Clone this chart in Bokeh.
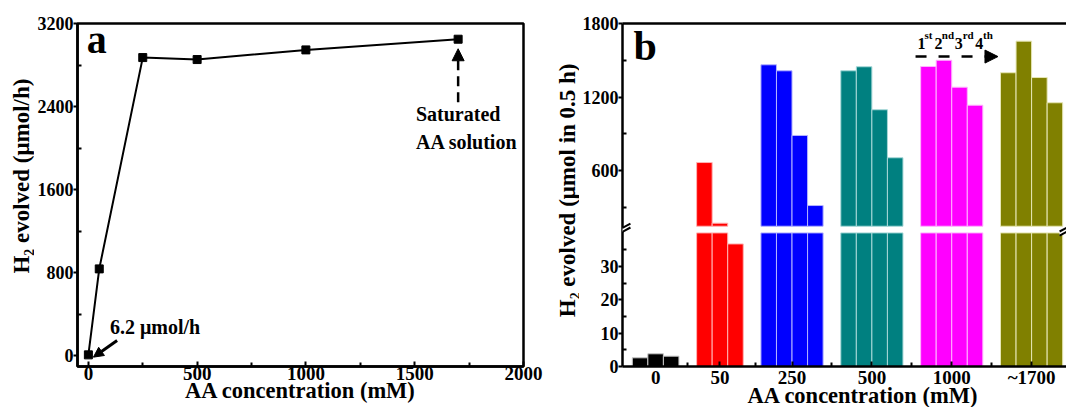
import math
from bokeh.plotting import figure
from bokeh.models import (Range1d, FixedTicker, CustomJSTickFormatter, Label, Arrow, Title,
                          NormalHead, PolyAnnotation, LinearAxis, ColumnDataSource)
from bokeh.layouts import row
from bokeh.embed import file_html
from bokeh.resources import INLINE

# ---------------- data ----------------
# panel a: H2 evolution rate vs AA concentration
conc_a = [0, 50, 250, 500, 1000, 1700]
rate_a = [6.2, 835, 2872, 2853, 2946, 3049]

# panel b: H2 evolved in 0.5 h for consecutive runs at each AA concentration
groups_b = ["0", "50", "250", "500", "1000", "~1700"]
runs_0 = [2.6, 3.8, 3.1]
runs_50 = [665, 170, 36.7]
runs_250 = [1463, 1414, 886, 314]
runs_500 = [1414, 1447, 1096, 704]
runs_1000 = [1449, 1500, 1280, 1133]
runs_1700 = [1398, 1656, 1359, 1153]
runs_b = [runs_0, runs_50, runs_250, runs_500, runs_1000, runs_1700]
colors_b = ["#000000", "#ff0000", "#0000ff", "#008080", "#ff00ff", "#808000"]
edges_b = ["#c8c8c8", "#ffb4b4", "#b4b4ff", "#a8d8d8", "#ffb4ff", "#e6e6b4"]

FONT = "Liberation Serif"
H = 407


def style_axis(ax, tick_in, tick_out, minor_in, minor_out, standoff, size="18px"):
    ax.axis_line_width = 2.5
    ax.axis_line_color = "black"
    ax.major_tick_line_width = 2
    ax.minor_tick_line_width = 2
    ax.major_tick_in = tick_in
    ax.major_tick_out = tick_out
    ax.minor_tick_in = minor_in
    ax.minor_tick_out = minor_out
    ax.major_label_standoff = standoff
    ax.major_label_text_font = FONT
    ax.major_label_text_font_style = "bold"
    ax.major_label_text_font_size = size
    ax.major_label_text_color = "black"


def lab(p, x, y, text, size, **kw):
    l = Label(x=x, y=y, text=text, text_font=FONT, text_font_style="bold",
              text_font_size=size, text_color="black", **kw)
    p.add_layout(l)
    return l


def helper(w, h):
    f = figure(width=w, height=h, x_range=Range1d(0, w), y_range=Range1d(0, h),
               x_axis_type=None, y_axis_type=None, output_backend="svg", toolbar_location=None,
               min_border=0, min_border_left=0, min_border_right=0, min_border_top=0, min_border_bottom=0)
    f.outline_line_color = None
    f.background_fill_color = "white"
    f.border_fill_color = "white"
    return f


# ---------------- panel a ----------------
pa = figure(width=516, height=H, x_range=Range1d(-50, 2000.5), y_range=Range1d(-106, 3200.5),
            output_backend="svg", toolbar_location=None,
            min_border_left=40, min_border_right=27, min_border_top=23, min_border_bottom=41)
pa.xgrid.visible = False
pa.ygrid.visible = False
pa.outline_line_color = "black"
pa.outline_line_width = 2.5
pa.outline_line_alpha = 1
pa.background_fill_color = "white"
pa.border_fill_color = "white"

pa.xaxis.ticker = FixedTicker(ticks=[0, 500, 1000, 1500, 2000], minor_ticks=[250, 750, 1250, 1750])
pa.yaxis.ticker = FixedTicker(ticks=[0, 800, 1600, 2400, 3200], minor_ticks=[400, 1200, 2000, 2800])
style_axis(pa.xaxis[0], 5, 0, 4, 0, 0, "19px")
style_axis(pa.yaxis[0], 0, 4, 4, 0, 0)
pa.xaxis.axis_label = "AA concentration (mM)"
pa.xaxis.axis_label_standoff = -5
pa.xaxis.axis_label_text_font = FONT
pa.xaxis.axis_label_text_font_style = "bold"
pa.xaxis.axis_label_text_font_size = "22.5px"
pa.xaxis.axis_label_text_color = "black"

src_a = ColumnDataSource(dict(x=conc_a, y=rate_a))
pa.line("x", "y", source=src_a, line_color="black", line_width=2)
pa.scatter("x", "y", source=src_a, marker="square", size=8, fill_color="black", line_color="black")

lab(pa, -7.8, 2825, "a", "40px")
lab(pa, 99, 168, "6.2 \u03bcmol/h", "20px")
lab(pa, 1506, 2219, "Saturated", "20px")
lab(pa, 1506, 1952, "AA solution", "20px")

pa.add_layout(Arrow(end=NormalHead(size=10, fill_color="black", line_color="black", line_width=1),
                    x_start=132, y_start=145, x_end=23, y_end=-16, line_width=3, line_color="black"))
pa.add_layout(Arrow(end=NormalHead(size=12, fill_color="black", line_color="black", line_width=1),
                    x_start=1700, y_start=2442, x_end=1700, y_end=2957, line_width=2.5,
                    line_color="black", line_dash="10 6"))

# ---------------- panel b ----------------
BREAK_LOW = 40      # top of the lower (0-40) segment
BREAK_HIGH = 145    # bottom of the upper segment
GROUP_GAP = 1.137   # gap between groups, in bar widths
LOW_END = 102.7
UP_START, UP_END = -1000, 1800

pb = figure(width=487, height=H, x_range=Range1d(-1.131, 27.43), y_range=Range1d(0, LOW_END),
            output_backend="svg", toolbar_location=None,
            min_border_left=40, min_border_right=0, min_border_top=23, min_border_bottom=41)
pb.extra_y_ranges = {"up": Range1d(UP_START, UP_END)}
pb.xgrid.visible = False
pb.ygrid.visible = False
pb.outline_line_color = None
pb.background_fill_color = "white"
pb.border_fill_color = "white"

low = dict(x=[], top=[], color=[], edge=[])
up = dict(x=[], bottom=[], top=[], color=[], edge=[])
centers = []
pos = 0.0
for vals, col, edge in zip(runs_b, colors_b, edges_b):
    for i, v in enumerate(vals):
        x = pos + i
        low["x"].append(x)
        low["top"].append(min(v, BREAK_LOW))
        low["color"].append(col)
        low["edge"].append(edge)
        if v > BREAK_HIGH:
            up["x"].append(x)
            up["bottom"].append(BREAK_HIGH)
            up["top"].append(v)
            up["color"].append(col)
            up["edge"].append(edge)
    centers.append(round(pos + (len(vals) - 1) / 2, 3))
    pos += len(vals) + GROUP_GAP

pb.vbar(x="x", top="top", bottom=0, width=1, source=ColumnDataSource(low),
        fill_color="color", line_color="edge", line_width=1)
pb.vbar(x="x", top="top", bottom="bottom", width=1, source=ColumnDataSource(up),
        fill_color="color", line_color="edge", line_width=1, y_range_name="up")

mids = [round((centers[i] + centers[i + 1]) / 2, 3) for i in range(len(centers) - 1)]
pb.xaxis.ticker = FixedTicker(ticks=centers, minor_ticks=mids)
pb.xaxis.major_label_overrides = {c: g for c, g in zip(centers, groups_b)}
style_axis(pb.xaxis[0], 5, 0, 4, 0, 0, "19px")


def to_low(v):
    return (v - UP_START) / (UP_END - UP_START) * LOW_END


pb.yaxis.ticker = FixedTicker(ticks=[0, 10, 20, 30] + [to_low(v) for v in (600, 1200, 1800)],
                              minor_ticks=[5, 15, 25, 35] + [to_low(v) for v in (300, 900, 1500)])
pb.yaxis.formatter = CustomJSTickFormatter(args=dict(le=LOW_END, us=UP_START, ue=UP_END), code="""
    if (tick > 45) { const v = us + tick / le * (ue - us); return String(Math.round(v / 100) * 100); }
    return String(Math.round(tick));
""")
style_axis(pb.yaxis[0], 0, 4, 4, 0, 0)

top_ax = LinearAxis(ticker=FixedTicker(ticks=[]), major_label_text_font_size="0px",
                    axis_line_width=2.5, major_tick_in=0, major_tick_out=0,
                    minor_tick_in=0, minor_tick_out=0)
pb.add_layout(top_ax, "above")

# x-axis title of panel b (left-aligned with an offset, as the frame runs past the window)
pb.add_layout(Title(text="AA concentration (mM)", align="left", offset=125, standoff=-16,
                    vertical_align="top", text_font=FONT, text_font_style="bold",
                    text_font_size="22.5px", text_color="black"), "below")

# axis-break marks (left axis and right edge)
for dx in (0.0, 28.563):
    xl, xr = -1.578 + dx, -0.620 + dx
    pb.add_layout(PolyAnnotation(xs=[xl, xr, xr, xl], ys=[40.42, 42.81, 41.62, 39.22],
                                 fill_color="white", fill_alpha=1, line_color=None))
    for ya, yb in ((40.42, 42.81), (39.22, 41.62)):
        pb.add_layout(Arrow(end=None, x_start=xl, y_start=ya, x_end=xr, y_end=yb,
                            line_width=2, line_color="black"))

lab(pb, -0.428, 1425, "b", "42px", y_range_name="up")
for x, t, sup in [(17.846, "1", False), (18.294, "st", True), (18.933, "2", False), (19.412, "nd", True),
                  (20.243, "3", False), (20.754, "rd", True), (21.553, "4", False), (22.064, "th", True)]:
    lab(pb, x, 1661 if sup else 1588, t, "11px" if sup else "16px", y_range_name="up")
pb.add_layout(Arrow(end=NormalHead(size=13, fill_color="black", line_color="black", line_width=1),
                    x_start=17.719, y_start=1530, x_end=23.022, y_end=1530, line_width=2.5,
                    line_color="black", line_dash="11 12", y_range_name="up"))

# ---------------- y-axis titles (own narrow canvases) ----------------
ylab_a = helper(34, H)
lab(ylab_a, 33.5, H - 181, "H\u2082 evolved (\u03bcmol/h)", "23px", angle=math.pi / 2,
    text_align="center", text_baseline="bottom")
ylab_b = helper(29, H)
lab(ylab_b, 29, H - 198, "H\u2082 evolved (\u03bcmol in 0.5 h)", "23px", angle=math.pi / 2,
    text_align="center", text_baseline="bottom")

layout = row(ylab_a, pa, ylab_b, pb, spacing=0)
open("out.html", "w").write(file_html(layout, INLINE))
